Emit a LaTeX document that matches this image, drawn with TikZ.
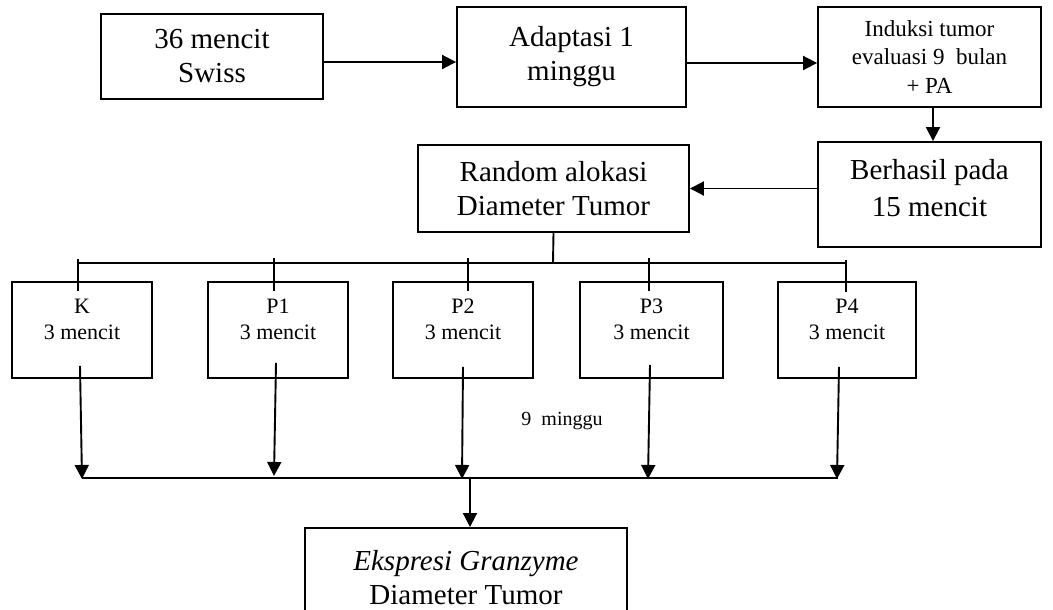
\documentclass[tikz,border=0pt]{standalone}
\usepackage{fontspec}
\setmainfont{Liberation Serif}
\usetikzlibrary{arrows.meta}
\begin{document}
\begin{tikzpicture}[x=1pt,y=-1pt,
  box/.style={draw,line width=1.9pt,inner sep=0pt,align=center},
  bigtxt/.style={font=\fontsize{29}{34}\selectfont,align=center},
  midtxt/.style={font=\fontsize{23}{28.5}\selectfont,align=center},
  smalltxt/.style={font=\fontsize{22}{26}\selectfont,align=center,inner sep=0pt},
  arr/.style={line width=1.9pt,-{Triangle[length=14pt,width=14pt]}},
  ln/.style={line width=1.9pt}]
\clip (0,0) rectangle (1053,610);
% top row
\node[box,bigtxt,minimum width=222pt,minimum height=85pt] (b1) at (212,56.5) {36 mencit\\Swiss};
\node[box,bigtxt,minimum width=229pt,minimum height=100pt] (b2) at (571.5,57) {Adaptasi 1\\minggu};
\node[box,midtxt,minimum width=223pt,minimum height=100pt] (b3) at (929.5,57) {Induksi tumor\\evaluasi 9\ \ bulan\\+ PA};
% second row
\node[box,minimum width=223pt,minimum height=105pt] (b4) at (929.5,194.5) {};
\node[bigtxt,inner sep=0pt,font=\fontsize{29}{37}\selectfont] (b4t) at (929.5,188) {Berhasil pada\\15 mencit};
\node[box,bigtxt,minimum width=271pt,minimum height=87pt] (rnd) at (553.5,188.5) {Random alokasi\\Diameter Tumor};
% groups
\node[box,minimum width=140pt,minimum height=96pt] (k) at (82,330) {};
\node[box,minimum width=140pt,minimum height=96pt] (p1) at (278,330) {};
\node[box,minimum width=140pt,minimum height=96pt] (p2) at (463,330) {};
\node[box,minimum width=143pt,minimum height=96pt] (p3) at (651.5,330) {};
\node[box,minimum width=138pt,minimum height=96pt] (p4) at (847,330) {};
\node[smalltxt] (kt) at (82,319) {K\\3 mencit};
\node[smalltxt] (p1t) at (278,319) {P1\\3 mencit};
\node[smalltxt] (p2t) at (463,319) {P2\\3 mencit};
\node[smalltxt] (p3t) at (651.5,319) {P3\\3 mencit};
\node[smalltxt] (p4t) at (847,319) {P4\\3 mencit};
\node[font=\fontsize{20}{24}\selectfont,inner sep=0pt] (nm) at (562,421) {9\ \ minggu};
% bottom
\node[box,bigtxt,minimum width=322pt,minimum height=100pt] (out) at (466,578) {\textit{Ekspresi Granzyme}\\Diameter Tumor};
% connectors
\coordinate (a1) at ([yshift=-5.5pt]b1.east);
\draw[arr] (a1) -- (a1 -| b2.west);
\coordinate (a2) at ([yshift=-6pt]b2.east);
\draw[arr] (a2) -- (a2 -| b3.west);
\draw[arr] ([xshift=3.5pt]b3.south) -- ([xshift=3.5pt]b4.north);
\draw[arr] (b4.west |- rnd.east) -- (rnd.east);
\coordinate (bus) at (553,263);
\coordinate (busL) at (78,263);
\coordinate (busR) at (846,263);
\draw[ln] (rnd.south) -- (bus);
\draw[ln] (busL) -- (busR);
\draw[ln] ([xshift=-4pt,yshift=22pt]k.north) -- ([xshift=-4pt,yshift=-10pt]k.north);
\draw[ln] ([xshift=-4pt,yshift=23pt]p1.north) -- ([xshift=-4pt,yshift=-10pt]p1.north);
\draw[ln] ([xshift=5pt,yshift=23pt]p2.north) -- ([xshift=5pt,yshift=-10pt]p2.north);
\draw[ln] ([xshift=-2.5pt,yshift=23pt]p3.north) -- ([xshift=-2.5pt,yshift=-10pt]p3.north);
\draw[ln] ([xshift=-1pt,yshift=21pt]p4.north) -- ([xshift=-1pt,yshift=-11pt]p4.north);
\draw[arr] ([xshift=-2pt,yshift=13pt]k.south) -- ([yshift=-100pt]k.south);
\draw[arr] ([xshift=-2pt,yshift=16pt]p1.south) -- ([xshift=-4pt,yshift=-97pt]p1.south);
\draw[arr] ([yshift=12pt]p2.south) -- ([xshift=-1pt,yshift=-100pt]p2.south);
\draw[arr] ([xshift=-1.5pt,yshift=14pt]p3.south) -- ([xshift=-3.5pt,yshift=-100pt]p3.south);
\draw[arr] ([xshift=-8pt,yshift=12pt]p4.south) -- ([xshift=-10pt,yshift=-100pt]p4.south);
\coordinate (bL) at (82,478);
\coordinate (bR) at (838,478);
\draw[ln] (bL) -- (bR);
\coordinate (c0) at (470,479);
\draw[arr] (c0) -- (c0 |- out.north);
\end{tikzpicture}
\end{document}
